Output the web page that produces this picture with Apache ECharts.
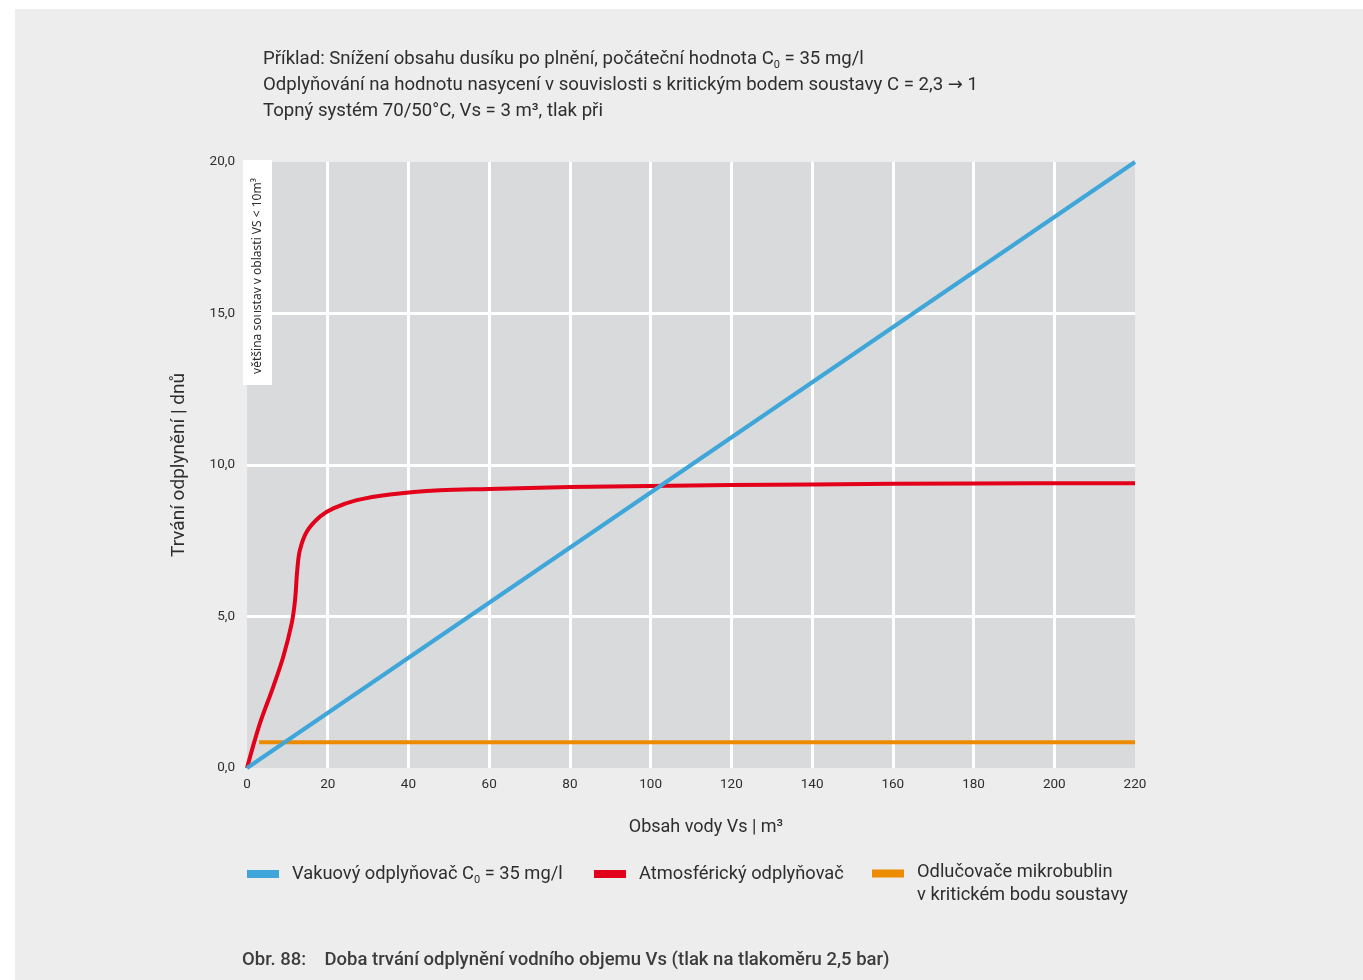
<!DOCTYPE html>
<html>
<head>
<meta charset="utf-8">
<script src="https://cdn.jsdelivr.net/npm/echarts@6/dist/echarts.min.js"></script>
<style>
  html, body { margin: 0; padding: 0; background: #ffffff; }
  #chart { width: 1363px; height: 980px; }
</style>
</head>
<body>
<div id="chart"></div>
<script>
// Vacuum degasser: linear rise with water volume
const vacuumVs = [0, 220];
const vacuumDays = [0, 20];

// Atmospheric degasser: steep start, saturating near 9.4 days
const atmosVs = [0, 3.2, 6.5, 9.0, 11.1, 11.9, 12.45, 13.1, 14.8, 18.1, 21.4, 27.2, 35.4, 47.8, 60, 80, 100, 140, 180, 220];
const atmosDays = [0, 1.47, 2.68, 3.68, 4.79, 5.54, 6.53, 7.19, 7.8, 8.3, 8.57, 8.84, 9.03, 9.17, 9.21, 9.27, 9.31, 9.36, 9.39, 9.4];

// Microbubble separators: constant duration
const microVs = [3, 220];
const microDays = [0.85, 0.85];

const xTicks = { min: 0, max: 220, step: 20 };
const yTicks = { min: 0, max: 20, step: 5 };

const seriesNames = [
  'Vakuový odplyňovač C{sub|0} = 35 mg/l',
  'Atmosférický odplyňovač',
  'Odlučovače mikrobublin\nv kritickém bodu soustavy'
];
const colors = ['#3fa6da', '#e2001a', '#ec8b00'];

const FONT = 'Roboto, "Noto Sans", sans-serif';
const TEXT = '#2e2e2e';

const pairs = (xs, ys) => xs.map((x, i) => [x, ys[i]]);

const chart = echarts.init(document.getElementById('chart'), null, { renderer: 'canvas' });

const subStyle = { fontSize: 11, color: TEXT, padding: [12, 0, 0, 0] };

const legendBase = {
  orient: 'horizontal',
  icon: 'rect',
  itemWidth: 32,
  itemHeight: 8,
  padding: 0,
  selectedMode: false,
  textStyle: { fontFamily: FONT, fontSize: 18.3, color: TEXT, padding: [0, 0, 0, 8] }
};

// Two-line legend entry: swatch sits at the first text line
const tallSwatch = 'path://M0,0H32V8H0Z M0,29h0.05v0.05h-0.05Z';

chart.setOption({
  backgroundColor: '#ffffff',
  animation: false,
  textStyle: { fontFamily: FONT },
  graphic: [
    {
      type: 'rect', z: -10, silent: true,
      shape: { x: 15, y: 9, width: 1363 - 15, height: 980 - 9 },
      style: { fill: '#ecedec' }
    },
    {
      type: 'group', z: 50,
      children: [
        { type: 'rect', shape: { x: 243, y: 160, width: 29, height: 225 }, style: { fill: '#ffffff' } },
        {
          type: 'text', x: 258, y: 276, rotation: Math.PI / 2,
          style: {
            text: 'většina soustav v oblasti VS < 10m³',
            fontFamily: '"Noto Sans", sans-serif', fontSize: 12, fill: TEXT,
            align: 'center', verticalAlign: 'middle'
          }
        }
      ]
    }
  ],
  title: [
    {
      left: 263, top: 46, padding: 0,
      text: 'Příklad: Snížení obsahu dusíku po plnění, počáteční hodnota C{sub|0} = 35 mg/l\n' +
            'Odplyňování na hodnotu nasycení v souvislosti s kritickým bodem soustavy C = 2,3 {arr|→} 1\n' +
            'Topný systém 70/50°C, Vs = 3 m³, tlak při',
      textStyle: {
        fontFamily: FONT, fontSize: 18.6, fontWeight: 'normal', color: TEXT, lineHeight: 26,
        rich: {
          sub: subStyle,
          arr: { fontFamily: '"DejaVu Sans", sans-serif', fontSize: 18, color: TEXT }
        }
      }
    },
    {
      left: 242, top: 951, padding: 0,
      text: 'Obr. 88:    Doba trvání odplynění vodního objemu Vs (tlak na tlakoměru 2,5 bar)',
      textStyle: { fontFamily: FONT, fontSize: 18.5, fontWeight: 500, color: '#3c3c3c' }
    }
  ],
  legend: [
    Object.assign({}, legendBase, {
      left: 247, top: 865, data: [{ name: seriesNames[0] }],
      textStyle: Object.assign({}, legendBase.textStyle, { rich: { sub: subStyle } })
    }),
    Object.assign({}, legendBase, { left: 594, top: 865, data: [{ name: seriesNames[1] }] }),
    Object.assign({}, legendBase, {
      left: 872, top: 861, itemHeight: 29.05, data: [{ name: seriesNames[2], icon: tallSwatch }],
      textStyle: Object.assign({}, legendBase.textStyle, { lineHeight: 23 })
    })
  ],
  grid: {
    left: 247, right: 1363 - 1135, top: 162, bottom: 980 - 768,
    show: true, backgroundColor: '#d9dadb', borderWidth: 0, containLabel: false
  },
  xAxis: {
    type: 'value',
    min: xTicks.min, max: xTicks.max, interval: xTicks.step,
    name: 'Obsah vody Vs | m³',
    nameLocation: 'middle', nameGap: 50,
    nameTextStyle: { fontFamily: FONT, fontSize: 18, color: TEXT, padding: [0, 0, 0, 30] },
    axisLine: { show: false }, axisTick: { show: false },
    axisLabel: { fontFamily: FONT, fontSize: 13.5, color: TEXT, margin: 10 },
    splitLine: { show: true, showMinLine: false, showMaxLine: false, lineStyle: { color: '#ffffff', width: 3 } }
  },
  yAxis: {
    type: 'value',
    min: yTicks.min, max: yTicks.max, interval: yTicks.step,
    name: 'Trvání odplynění | dnů',
    nameLocation: 'middle', nameGap: 58, nameRotate: 90,
    nameTextStyle: { fontFamily: FONT, fontSize: 19, color: TEXT },
    axisLine: { show: false }, axisTick: { show: false },
    axisLabel: {
      fontFamily: FONT, fontSize: 13.5, color: TEXT, margin: 12,
      formatter: v => v.toFixed(1).replace('.', ',')
    },
    splitLine: { show: true, showMinLine: false, showMaxLine: false, lineStyle: { color: '#ffffff', width: 3 } }
  },
  series: [
    {
      name: seriesNames[0], type: 'line', data: pairs(vacuumVs, vacuumDays),
      showSymbol: false, color: colors[0], lineStyle: { width: 4, color: colors[0] }, z: 3
    },
    {
      name: seriesNames[1], type: 'line', data: pairs(atmosVs, atmosDays),
      smooth: 0.35, showSymbol: false, color: colors[1], lineStyle: { width: 4, color: colors[1] }, z: 2
    },
    {
      name: seriesNames[2], type: 'line', data: pairs(microVs, microDays),
      showSymbol: false, color: colors[2], lineStyle: { width: 4, color: colors[2] }, z: 1
    }
  ]
});
</script>
</body>
</html>
